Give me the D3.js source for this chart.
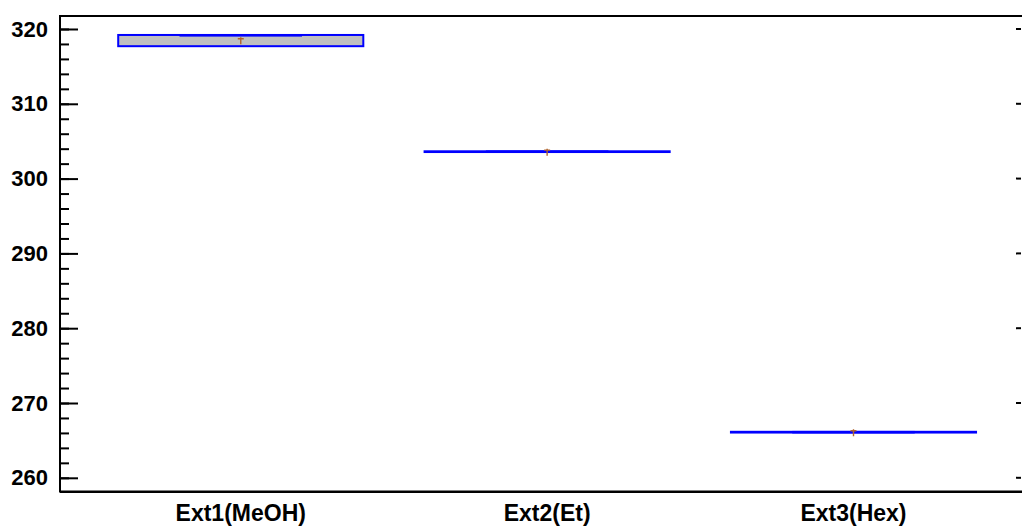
<!DOCTYPE html>
<html>
<head>
<meta charset="utf-8">
<script src="https://cdn.jsdelivr.net/npm/d3@7"></script>
<style>
  html, body { margin: 0; padding: 0; background: #fff; overflow: hidden; }
  svg { display: block; font-family: "Liberation Sans", Arial, sans-serif; font-weight: bold; }
</style>
</head>
<body>
<div id="chart"></div>
<script>
// box plot data
const categories = ["Ext1(MeOH)", "Ext2(Et)", "Ext3(Hex)"];
const lowerQuartile = [317.7, 303.55, 266.05];
const upperQuartile = [319.2, 303.65, 266.15];
const medians = [319.15, 303.6, 266.1];
const means = [318.5, 303.6, 266.1];
const majorTicks = [260, 270, 280, 290, 300, 310, 320];
const minorTicks = d3.range(260, 322, 2);

const width = 1022, height = 528;
const plotLeft = 60, plotRight = 1022, plotTop = 15, plotBottom = 490;

const svg = d3.select("#chart")
    .append("svg")
    .attr("width", width)
    .attr("height", height);

const y = d3.scaleLinear()
    .domain([258.37, 321.87])
    .range([plotBottom, plotTop]);

// category index -> position
const x = d3.scaleLinear()
    .domain([0.41, 3.55])
    .range([plotLeft, plotRight]);
const boxW = x(1.4) - x(0.6);

// frame: left side plus top and bottom borders, one path
svg.append("path")
    .attr("d", `M${plotRight},${plotTop + 1}H${plotLeft}V${plotBottom + 1.5}H${plotRight}`)
    .attr("fill", "none")
    .attr("stroke", "#000")
    .attr("stroke-width", 2);
svg.append("line").attr("x1", plotLeft).attr("x2", plotRight)
    .attr("y1", plotBottom + 2.5).attr("y2", plotBottom + 2.5)
    .attr("stroke", "#000").attr("stroke-width", 1);

// minor ticks
svg.append("g")
    .attr("transform", `translate(${plotLeft},0)`)
    .call(d3.axisLeft(y).tickValues(minorTicks).tickSize(-9).tickFormat(""))
    .call(g => g.select(".domain").remove())
    .call(g => g.selectAll("line").attr("stroke", "#000").attr("stroke-width", 2));

// major ticks + labels
svg.append("g")
    .attr("transform", `translate(${plotLeft},0)`)
    .call(d3.axisLeft(y).tickValues(majorTicks).tickSize(-18).tickPadding(12).tickFormat(d3.format("d")))
    .call(g => g.select(".domain").remove())
    .call(g => g.selectAll("line").attr("stroke", "#000").attr("stroke-width", 2))
    .call(g => g.selectAll("text").attr("font-size", 22).attr("fill", "#000"));

// short dashes on the right side
svg.append("g")
    .selectAll("line")
    .data(majorTicks)
    .enter()
    .append("line")
    .attr("x1", 1016)
    .attr("x2", 1021)
    .attr("y1", d => y(d))
    .attr("y2", d => y(d))
    .attr("stroke", "#000")
    .attr("stroke-width", 2);

// boxes
const data = categories.map((c, i) => ({
    name: c, i: i + 1,
    q1: lowerQuartile[i], q3: upperQuartile[i], med: medians[i], mean: means[i]
}));

const boxes = svg.selectAll(".box")
    .data(data)
    .enter()
    .append("g")
    .attr("class", "box");

boxes.append("rect")
    .attr("x", d => x(d.i) - boxW / 2)
    .attr("y", d => y(d.q3))
    .attr("width", boxW)
    .attr("height", d => Math.max(0.5, y(d.q1) - y(d.q3)))
    .attr("fill", "#c0c0c0")
    .attr("stroke", "#0000ff")
    .attr("stroke-width", 2);

// median, drawn as a short thick blue bar
boxes.append("rect")
    .attr("x", d => x(d.i) - boxW / 4)
    .attr("y", d => y(d.med) - 1.25)
    .attr("width", boxW / 2)
    .attr("height", 2.5)
    .attr("fill", "#0000ff");

// mean marker "+"
boxes.append("path")
    .attr("d", d => {
        const cx = x(d.i), cy = y(d.mean);
        return `M${cx},${cy - 3}V${cy + 4}M${cx - 3},${cy - 1.5}H${cx + 3}`;
    })
    .attr("fill", "none")
    .attr("stroke", "#b0642c")
    .attr("stroke-width", 1.4);

// category labels
svg.selectAll(".cat")
    .data(data)
    .enter()
    .append("text")
    .attr("class", "cat")
    .attr("x", d => x(d.i))
    .attr("y", 521)
    .attr("text-anchor", "middle")
    .attr("font-size", 23)
    .attr("fill", "#000")
    .text(d => d.name);
</script>
</body>
</html>
